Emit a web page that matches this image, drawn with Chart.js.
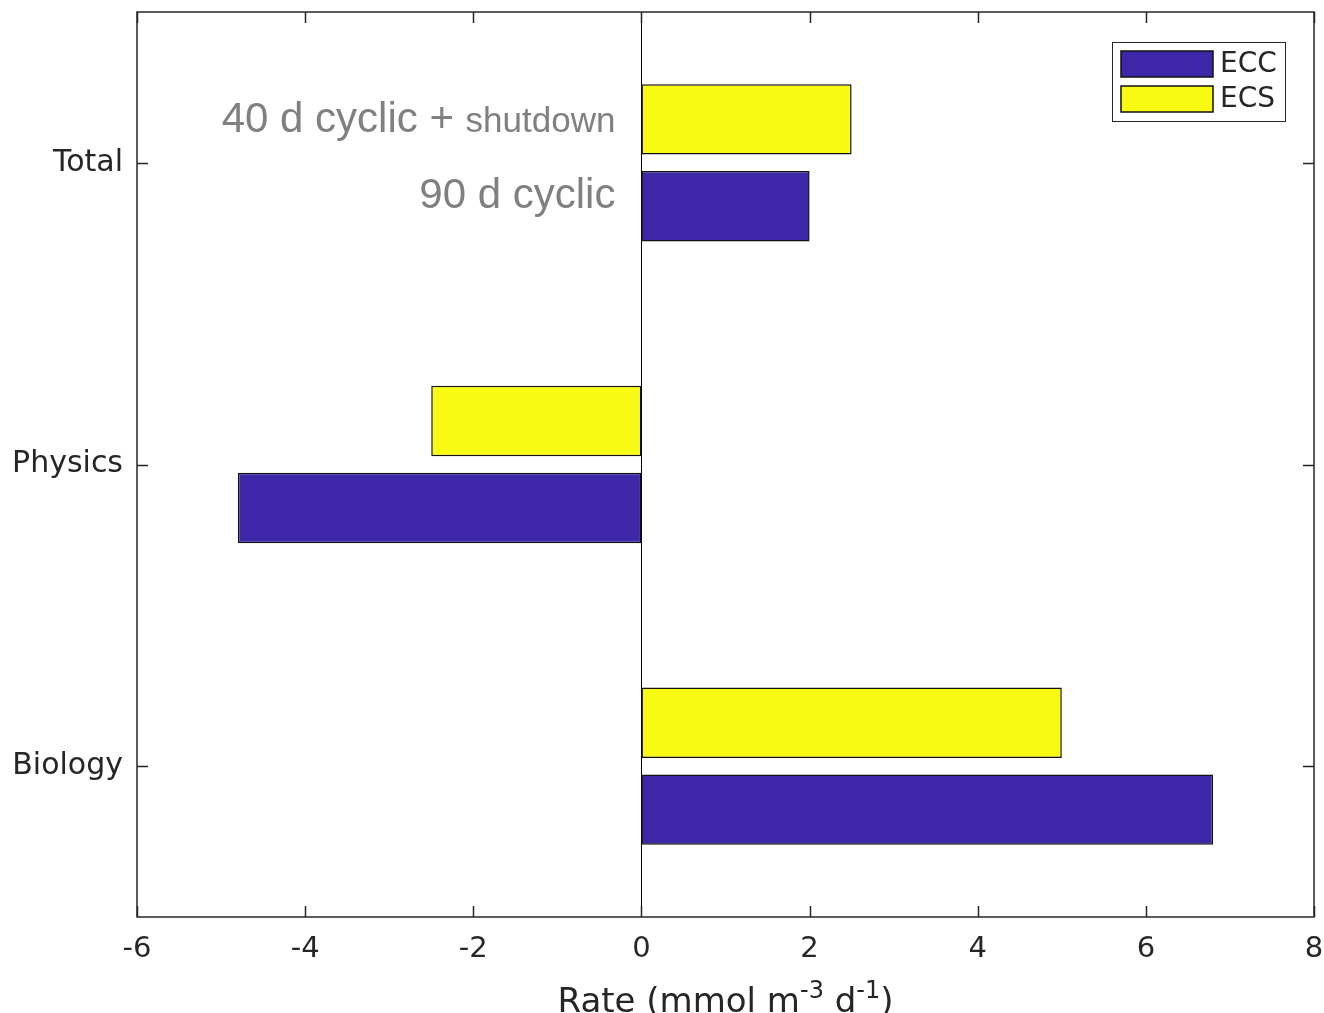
<!DOCTYPE html>
<html>
<head>
<meta charset="utf-8">
<script src="https://cdn.jsdelivr.net/npm/chart.js@4/dist/chart.umd.min.js"></script>
<style>
  html, body { margin: 0; padding: 0; background: #fff; }
  #wrap { width: 1324px; height: 1013px; position: relative; }
</style>
</head>
<body>
<div id="wrap"><canvas id="c"></canvas></div>
<script>
// Budget terms and their rates for the two forcing scenarios
const categories = ['Total', 'Physics', 'Biology'];
const eccValues = [2.0, -4.8, 6.8];   // ECC: 90 d cyclic
const ecsValues = [2.5, -2.5, 5.0];   // ECS: 40 d cyclic + shutdown
const xTickValues = [-6, -4, -2, 0, 2, 4, 6, 8];
const seriesNames = ['ECC', 'ECS'];

const ECC_COLOR = 'rgb(61,38,168)';
const ECS_COLOR = 'rgb(249,250,20)';
const AXIS_COLOR = '#262626';
const AXIS_FONT = '"DejaVu Sans", sans-serif';

// Box, inward tick marks on all four sides, and the zero line
const framePlugin = {
  id: 'frame',
  beforeDatasetsDraw(chart) {
    const { ctx, chartArea: a, scales: { x } } = chart;
    const x0 = Math.round(x.getPixelForValue(0)) + 0.5;
    ctx.save();
    ctx.strokeStyle = '#000';
    ctx.lineWidth = 1;
    ctx.beginPath();
    ctx.moveTo(x0, a.top);
    ctx.lineTo(x0, a.bottom);
    ctx.stroke();
    ctx.restore();
  },
  afterDatasetsDraw(chart) {
    const { ctx, chartArea: a, scales: { x, y } } = chart;
    const tl = 11;
    ctx.save();
    ctx.strokeStyle = AXIS_COLOR;
    ctx.lineWidth = 1.5;
    ctx.strokeRect(a.left, a.top, a.right - a.left, a.bottom - a.top);
    ctx.beginPath();
    xTickValues.forEach(v => {
      const px = Math.round(x.getPixelForValue(v)) + 0.5;
      ctx.moveTo(px, a.bottom); ctx.lineTo(px, a.bottom - tl);
      ctx.moveTo(px, a.top); ctx.lineTo(px, a.top + tl);
    });
    categories.forEach((c, i) => {
      const py = Math.round(y.getPixelForValue(i)) + 0.5;
      ctx.moveTo(a.left, py); ctx.lineTo(a.left + tl, py);
      ctx.moveTo(a.right, py); ctx.lineTo(a.right - tl, py);
    });
    ctx.stroke();
    ctx.restore();
  }
};

// Boxed legend in the upper right corner of the axes
const boxLegendPlugin = {
  id: 'boxLegend',
  afterDraw(chart) {
    const { ctx, chartArea: a } = chart;
    const bx = a.right - 202, by = a.top + 30, bw = 173, bh = 79;
    ctx.save();
    ctx.fillStyle = '#fff';
    ctx.fillRect(bx, by, bw, bh);
    ctx.strokeStyle = AXIS_COLOR;
    ctx.lineWidth = 1;
    ctx.strokeRect(bx + 0.5, by + 0.5, bw, bh);
    const entries = seriesNames.map(n => chart.data.datasets.find(d => d.label === n));
    entries.forEach((ds, i) => {
      const sy = by + 9 + i * 35;
      ctx.fillStyle = ds.backgroundColor;
      ctx.fillRect(bx + 9, sy, 92, 26);
      ctx.strokeStyle = '#111';
      ctx.lineWidth = 1.5;
      ctx.strokeRect(bx + 9, sy, 92, 26);
      ctx.fillStyle = AXIS_COLOR;
      ctx.font = '28px ' + AXIS_FONT;
      ctx.textBaseline = 'middle';
      ctx.textAlign = 'left';
      ctx.fillText(ds.label, bx + 108, sy + 14);
    });
    ctx.restore();
  }
};

// Scenario names beside the Total bars, and the x axis title with superscripts
const textPlugin = {
  id: 'annotText',
  afterDraw(chart) {
    const { ctx, chartArea: a, scales: { x, y } } = chart;
    const xr = x.getPixelForValue(0) - 26;
    const yc = y.getPixelForValue(0);
    ctx.save();
    ctx.fillStyle = 'rgb(128,128,128)';
    ctx.textBaseline = 'alphabetic';
    ctx.textAlign = 'right';
    // "40 d cyclic + shutdown" with the last word smaller
    ctx.font = '35px "Liberation Sans", Arial, sans-serif';
    const w2 = ctx.measureText('shutdown').width;
    ctx.fillText('shutdown', xr, yc - 31);
    ctx.font = '42px "Liberation Sans", Arial, sans-serif';
    ctx.fillText('40 d cyclic + ', xr - w2, yc - 31);
    ctx.fillText('90 d cyclic', xr, yc + 45);

    // Axis title: Rate (mmol m^-3 d^-1)
    const parts = [
      { t: 'Rate (mmol m', sup: false },
      { t: '-3', sup: true },
      { t: ' d', sup: false },
      { t: '-1', sup: true },
      { t: ')', sup: false }
    ];
    const big = '34px ' + AXIS_FONT, small = '24px ' + AXIS_FONT;
    let total = 0;
    parts.forEach(p => { ctx.font = p.sup ? small : big; p.w = ctx.measureText(p.t).width; total += p.w; });
    let cx = (a.left + a.right) / 2 - total / 2;
    const base = 1012;
    ctx.fillStyle = AXIS_COLOR;
    ctx.textAlign = 'left';
    parts.forEach(p => {
      ctx.font = p.sup ? small : big;
      ctx.fillText(p.t, cx, p.sup ? base - 14 : base);
      cx += p.w;
    });
    ctx.restore();
  }
};

const chart = new Chart(document.getElementById('c'), {
  type: 'bar',
  data: {
    labels: categories,
    datasets: [
      {
        label: 'ECS',
        data: ecsValues,
        backgroundColor: ECS_COLOR,
        borderColor: '#111',
        borderWidth: 1.5,
        borderSkipped: false
      },
      {
        label: 'ECC',
        data: eccValues,
        backgroundColor: ECC_COLOR,
        borderColor: '#111',
        borderWidth: 1.5,
        borderSkipped: false
      }
    ]
  },
  options: {
    indexAxis: 'y',
    responsive: true,
    maintainAspectRatio: false,
    animation: false,
    categoryPercentage: 0.576,
    barPercentage: 0.81,
    layout: { padding: { top: 12, right: 10, left: 0, bottom: 0 } },
    plugins: {
      legend: { display: false },
      tooltip: { enabled: false }
    },
    scales: {
      x: {
        type: 'linear',
        min: -6,
        max: 8,
        afterBuildTicks(scale) { scale.ticks = xTickValues.map(v => ({ value: v })); },
        grid: { display: false, drawTicks: false },
        border: { display: false },
        ticks: {
          padding: 15,
          color: AXIS_COLOR,
          font: { family: AXIS_FONT, size: 29 },
          maxRotation: 0
        },
        afterFit(scale) {
          scale.height = 96;
          scale.paddingLeft = 0; scale.paddingRight = 0;
          scale.paddingTop = 0; scale.paddingBottom = 0;
        }
      },
      y: {
        type: 'category',
        offset: true,
        grid: { display: false, drawTicks: false },
        border: { display: false },
        ticks: {
          padding: 14,
          color: AXIS_COLOR,
          font: { family: AXIS_FONT, size: 30 }
        },
        afterFit(scale) {
          scale.width = 137;
          scale.paddingLeft = 0; scale.paddingRight = 0;
          scale.paddingTop = 0; scale.paddingBottom = 0;
        }
      }
    }
  },
  plugins: [framePlugin, boxLegendPlugin, textPlugin]
});
</script>
</body>
</html>
